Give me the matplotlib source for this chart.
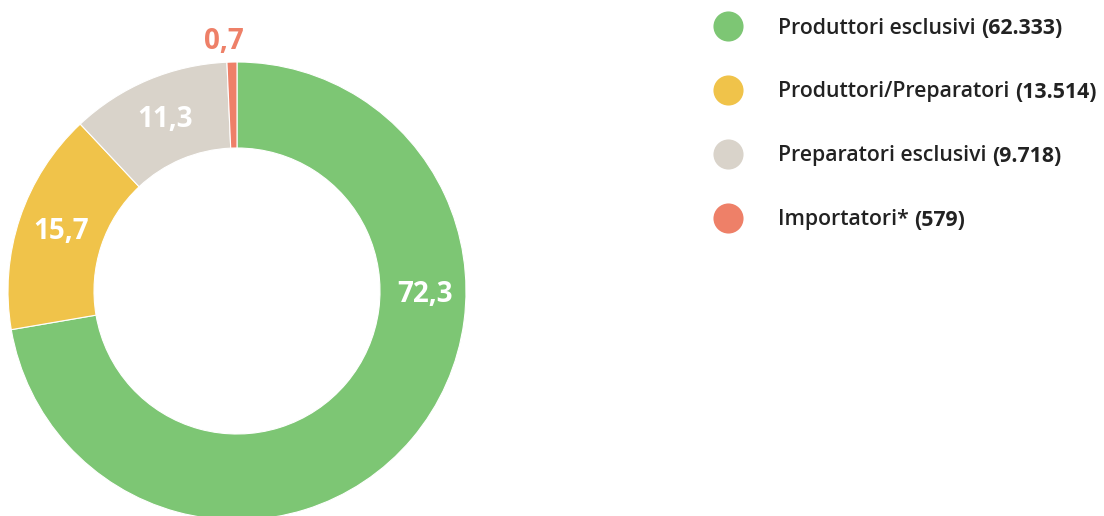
import matplotlib
matplotlib.use("Agg")
import matplotlib.pyplot as plt
import numpy as np

categories = ["Produttori esclusivi", "Produttori/Preparatori", "Preparatori esclusivi", "Importatori*"]
counts = [62333, 13514, 9718, 579]
percent_labels = ["72,3", "15,7", "11,3", "0,7"]
percents = [72.3, 15.7, 11.3, 0.7]
colors = ["#7DC674", "#F0C34A", "#D9D3CA", "#EE8068"]

W, H = 1104, 516
fig = plt.figure(figsize=(W / 100, H / 100), dpi=100)
ax = fig.add_axes([0, 0, 1, 1])

font = "Open Sans"
cx, cy, R, ring = 237, 516 - 291, 229, 86

wedges, _ = ax.pie(percents, colors=colors, startangle=90, counterclock=False,
                   center=(cx, cy), radius=R, frame=True,
                   wedgeprops=dict(width=ring, edgecolor="white", linewidth=0.8))
ax.set_xlim(0, W)
ax.set_ylim(0, H)
ax.set_aspect("equal")
ax.axis("off")

# labels
label_r = 186
for i, (w, lab) in enumerate(zip(wedges, percent_labels)):
    mid = np.deg2rad((w.theta1 + w.theta2) / 2)
    if i == 0:
        ang = np.deg2rad(-1)
        r = label_r + 2
        col = "white"
    elif i == 3:
        ang = mid
        r = 250
        col = colors[3]
    else:
        ang = mid
        r = label_r
        col = "white"
    ax.text(cx + r * np.cos(ang) - (8 if i == 3 else 0), cy + r * np.sin(ang), lab,
            ha="center", va="center", fontsize=20, fontweight="bold",
            color=col, family=font)

# legend
renderer = fig.canvas.get_renderer()
row_y = [516 - 26, 516 - 90, 516 - 154, 516 - 218]
for i, (cat, n) in enumerate(zip(categories, counts)):
    y = row_y[i]
    ax.scatter([728], [y], s=470, color=colors[i], linewidths=0, zorder=3)
    yb = y - 7.5
    t = ax.text(778, yb, cat + " ", ha="left", va="baseline", fontsize=15.3,
                fontweight="semibold", color="#222222", family=font)
    bb = t.get_window_extent(renderer=renderer)
    x_end = ax.transData.inverted().transform((bb.x1, bb.y0))[0]
    ntxt = "(" + f"{n:,}".replace(",", ".") + ")"
    ax.text(x_end, yb, ntxt, ha="left", va="baseline", fontsize=15.3,
            fontweight="bold", color="#222222", family=font)

fig.savefig("out.png", dpi=100)
